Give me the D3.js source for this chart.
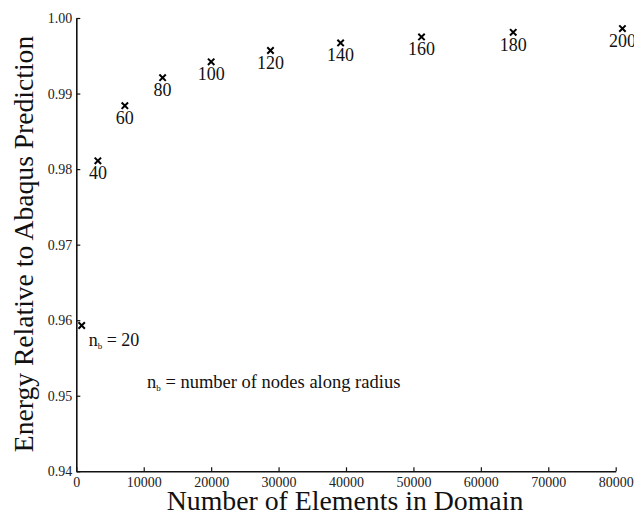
<!DOCTYPE html>
<html>
<head>
<meta charset="utf-8">
<script src="https://cdn.jsdelivr.net/npm/d3@7/dist/d3.min.js"></script>
<style>
  html, body { margin: 0; padding: 0; background: #fff; }
  svg { display: block; font-family: "Liberation Serif", "Times New Roman", serif; }
</style>
</head>
<body>
<svg id="chart" width="634" height="515"></svg>
<script>
// Mesh refinement study: nodes along radius, element count, energy ratio
const nodesAlongRadius = [20, 40, 60, 80, 100, 120, 140, 160, 180, 200];
const elementCounts    = [800, 3200, 7200, 12800, 20000, 28800, 39200, 51200, 64800, 81000];
const energyRatio      = [0.9593, 0.9811, 0.9884, 0.9921, 0.9942, 0.9957, 0.9967, 0.9975, 0.9981, 0.9986];

const xTicks = [0, 10000, 20000, 30000, 40000, 50000, 60000, 70000, 80000];
const yTicks = [0.94, 0.95, 0.96, 0.97, 0.98, 0.99, 1.00];

const svg = d3.select("#chart");
const plot = { left: 76.3, right: 615.7, top: 18, bottom: 471.3 };

const x = d3.scaleLinear().domain([0, 80000]).range([plot.left, plot.right]);
const y = d3.scaleLinear().domain([0.94, 1.00]).range([plot.bottom, plot.top]);

// Axes: ticks point into the plot area
const xAxis = d3.axisBottom(x).tickValues(xTicks).tickFormat(d3.format("d"))
  .tickSizeInner(-4).tickSizeOuter(0).tickPadding(6);
const yAxis = d3.axisLeft(y).tickValues(yTicks).tickFormat(d3.format(".2f"))
  .tickSizeInner(-4).tickSizeOuter(0).tickPadding(4);

const gx = svg.append("g").attr("transform", `translate(0,${plot.bottom})`).call(xAxis);
const gy = svg.append("g").attr("transform", `translate(${plot.left},0)`).call(yAxis);

[gx, gy].forEach(g => {
  g.attr("font-family", null);
  g.select(".domain").attr("stroke", "#111").attr("stroke-width", 1.6);
  g.selectAll(".tick line").attr("stroke", "#111").attr("stroke-width", 1.2);
  g.selectAll(".tick text").attr("fill", "#222")
    .style("font-family", "'Liberation Serif', serif").style("font-size", "14px");
});

// Markers
const s = 3.2;
const pts = nodesAlongRadius.map((n, i) => ({ n, e: elementCounts[i], v: energyRatio[i] }));
const marks = svg.append("g").attr("stroke", "#000").attr("stroke-width", 2).attr("fill", "none");
marks.selectAll("path").data(pts).join("path")
  .attr("d", d => {
    const cx = x(d.e), cy = y(d.v);
    return `M${cx - s},${cy - s}L${cx + s},${cy + s}M${cx - s},${cy + s}L${cx + s},${cy - s}`;
  });

// Point labels (nodes along radius), first one carries the symbol
const labels = svg.append("g").style("font-size", "18px").attr("fill", "#111");
labels.selectAll("text").data(pts.slice(1)).join("text")
  .attr("x", d => x(d.e)).attr("y", d => y(d.v) + 18.5)
  .attr("text-anchor", "middle")
  .text(d => d.n);

const first = pts[0];
const t0 = labels.append("text").attr("x", x(first.e) + 7).attr("y", y(first.v) + 20.7);
t0.append("tspan").text("n");
t0.append("tspan").attr("dy", 3).style("font-size", "9px").text("b");
t0.append("tspan").attr("dy", -3).text(" = " + first.n);

// Legend note
const note = svg.append("text").attr("x", 147).attr("y", 387.7)
  .style("font-size", "18.5px").attr("fill", "#111");
note.append("tspan").text("n");
note.append("tspan").attr("dy", 3).style("font-size", "9px").text("b");
note.append("tspan").attr("dy", -3).text(" = number of nodes along radius");

// Axis titles
svg.append("text").attr("x", 345).attr("y", 510)
  .attr("text-anchor", "middle").style("font-size", "27.8px").attr("fill", "#111")
  .text("Number of Elements in Domain");

svg.append("text").attr("transform", "translate(32.5,244) rotate(-90)")
  .attr("text-anchor", "middle").style("font-size", "27.6px").attr("fill", "#111")
  .text("Energy Relative to Abaqus Prediction");
</script>
</body>
</html>
